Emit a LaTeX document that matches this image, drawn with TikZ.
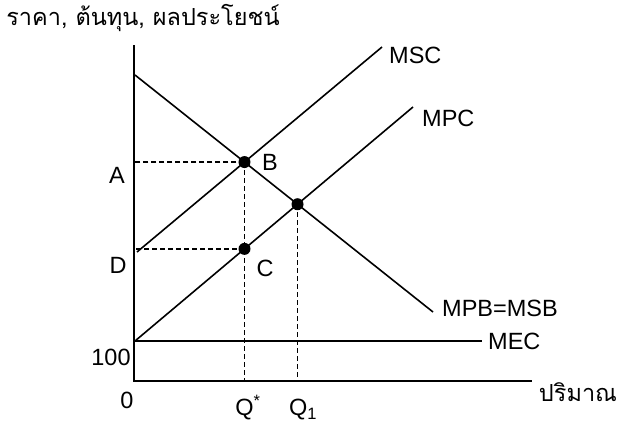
\documentclass[tikz,border=0pt]{standalone}
\usepackage{fontspec}
\setmainfont{Liberation Sans}
\newfontfamily\thaifont[Script=Thai]{Loma}
\usetikzlibrary{positioning,calc}

\tikzset{
  curve/.style={line width=1.6pt},
  guide/.style={line width=1.6pt,dash pattern=on 5pt off 3pt},
  eqdot/.style={circle,fill=black,inner sep=0pt,minimum size=12pt},
  lbl/.style={inner sep=1pt}
}

\begin{document}
\begin{tikzpicture}[x=1pt,y=-1pt, every node/.style={font=\fontsize{23.5}{27}\selectfont}]
\useasboundingbox (0,0) rectangle (618,423);
% axes
\coordinate (o) at (134,381);
\coordinate (ytop) at (134,45);
\coordinate (xend) at (532,381);
\draw[line width=2pt] (ytop) -- (o) -- (xend);
% end points of the curves
\coordinate (msc0) at (137,252); \coordinate (msc1) at (382,47);
\coordinate (mpc0) at (135,341); \coordinate (mpc1) at (413,107);
\coordinate (mpb0) at (135,75);  \coordinate (mpb1) at (433,312);
\coordinate (mec0) at (134,341); \coordinate (mec1) at (482,341);
\draw[curve] (msc0) -- (msc1);
\draw[curve] (mpc0) -- (mpc1);
\draw[curve] (mpb0) -- (mpb1);
\draw[curve] (mec0) -- (mec1);
% equilibrium points
\coordinate (B) at (intersection of msc0--msc1 and mpb0--mpb1);
\coordinate (E) at (intersection of mpc0--mpc1 and mpb0--mpb1);
\coordinate (qs) at (B |- o);
\coordinate (C) at (intersection of mpc0--mpc1 and B--qs);
\coordinate (q1) at (E |- o);
\draw[guide] (B) -- (B -| o) (B) -- (qs);
\draw[guide] (C) -- (C -| o);
\draw[guide] (E) -- (q1);
\foreach \p in {B,C,E} {\node[eqdot] at (\p) {};}
% labels
\node[lbl] (ttl) at (143,18) {\thaifont ราคา, ต้นทุน, ผลประโยชน์};
\node[lbl] (qty) at (578,392) {\thaifont ปริมาณ};
\node[lbl,anchor=west] (lmsc) at (388,55) {MSC};
\node[lbl,anchor=west] (lmpc) at (421,118) {MPC};
\node[lbl,anchor=west] (lmpb) at (441,308) {MPB=MSB};
\node[lbl,anchor=west] (lmec) at (487,341) {MEC};
\node[lbl] (la) at (117,175) {A};
\node[lbl] (ld) at (118,265) {D};
\node[lbl] (lb) at (270,162) {B};
\node[lbl] (lc) at (265,268) {C};
\node[lbl] (l100) at (111,357) {100};
\node[lbl] (l0) at (127,400) {0};
\node[lbl] (lqs) at (248,408) {Q\textsuperscript{*}};
\node[lbl] (lq1) at (303,410) {Q\textsubscript{1}};
\end{tikzpicture}
\end{document}
